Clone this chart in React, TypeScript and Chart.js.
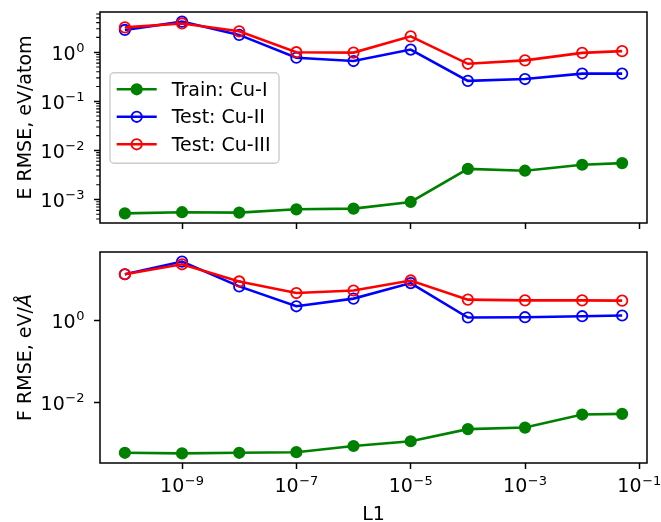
import React, { useEffect, useRef } from "react";
import { Chart, registerables } from "chart.js";

Chart.register(...registerables);

const FONT = "'DejaVu Sans', 'Liberation Sans', sans-serif";

// L1 regularisation strengths
const l1Values = [1e-10, 1e-9, 1e-8, 1e-7, 1e-6, 1e-5, 1e-4, 1e-3, 1e-2, 5e-2];

const seriesLabels = ["Train: Cu-I", "Test: Cu-II", "Test: Cu-III"];

// energy RMSE, eV/atom
const energyTrainCuI = [5.2e-4, 5.5e-4, 5.4e-4, 6.3e-4, 6.5e-4, 8.9e-4, 4.2e-3, 3.85e-3, 5.1e-3, 5.5e-3];
const energyTestCuII = [2.84, 4.2, 2.25, 0.77, 0.66, 1.13, 0.26, 0.284, 0.366, 0.366];
const energyTestCuIII = [3.2, 3.85, 2.66, 1.0, 0.98, 2.1, 0.58, 0.68, 0.97, 1.05];

// force RMSE, eV/Å
const forceTrainCuI = [5.8e-4, 5.6e-4, 5.8e-4, 6.0e-4, 8.5e-4, 1.11e-3, 2.2e-3, 2.4e-3, 5.0e-3, 5.2e-3];
const forceTestCuII = [13.5, 27.5, 6.8, 2.22, 3.42, 8.2, 1.18, 1.2, 1.27, 1.32];
const forceTestCuIII = [13.5, 23.6, 9.0, 4.68, 5.4, 9.5, 3.23, 3.1, 3.1, 3.05];

// major tick positions
const xTickValues = [1e-9, 1e-7, 1e-5, 1e-3, 1e-1];
const energyTickValues = [1e-3, 1e-2, 1e-1, 1];
const forceTickValues = [1e-2, 1];

const seriesColors = ["#008000", "#0000ff", "#ff0000"];
const seriesFilled = [true, false, false];

const LINE_W = 2.6;
const POINT_R = 5.2;
const POINT_BW = 1.8;

// 5% margin in log space on both ends
function logLimits(values: number[]): [number, number] {
  const lo = Math.log10(Math.min(...values));
  const hi = Math.log10(Math.max(...values));
  const m = (hi - lo) * 0.05;
  return [Math.pow(10, lo - m), Math.pow(10, hi + m)];
}

function drawPow10(ctx: CanvasRenderingContext2D, value: number, x: number, baseline: number, align: "right" | "center") {
  const exp = Math.round(Math.log10(value));
  const sup = (exp < 0 ? "\u2212" : "") + Math.abs(exp);
  ctx.font = `19px ${FONT}`;
  const wb = ctx.measureText("10").width;
  ctx.font = `13px ${FONT}`;
  const ws = ctx.measureText(sup).width;
  const gap = 0.6;
  const total = wb + gap + ws;
  const x0 = align === "right" ? x - total : x - total / 2;
  ctx.textAlign = "left";
  ctx.textBaseline = "alphabetic";
  ctx.fillStyle = "#000";
  ctx.font = `19px ${FONT}`;
  ctx.fillText("10", x0, baseline);
  ctx.font = `13px ${FONT}`;
  ctx.fillText(sup, x0 + wb + gap, baseline - 7.5);
}

type PanelOpts = {
  yTitle: string;
  yTitleTail?: string;
  yTickValues: number[];
  minorY: boolean;
  showXLabels: boolean;
  showLegend: boolean;
};

function panelPlugin(opts: PanelOpts) {
  return {
    id: "panelDecor",
    afterDraw(chart: any) {
      const ctx: CanvasRenderingContext2D = chart.ctx;
      const area = chart.chartArea;
      const xs = chart.scales.x;
      const ys = chart.scales.y;
      ctx.save();

      // axes frame
      ctx.strokeStyle = "#000";
      ctx.lineWidth = 1.5;
      ctx.strokeRect(area.left, area.top, area.right - area.left, area.bottom - area.top);

      // minor y ticks
      if (opts.minorY) {
        const lo = Math.floor(Math.log10(ys.min));
        const hi = Math.ceil(Math.log10(ys.max));
        ctx.lineWidth = 1.1;
        ctx.beginPath();
        for (let d = lo; d <= hi; d++) {
          for (let k = 2; k <= 9; k++) {
            const v = k * Math.pow(10, d);
            if (v < ys.min || v > ys.max) continue;
            const py = ys.getPixelForValue(v);
            ctx.moveTo(area.left - 3.8, py);
            ctx.lineTo(area.left, py);
          }
        }
        ctx.stroke();
      }

      // y tick labels
      for (const v of opts.yTickValues) {
        const py = ys.getPixelForValue(v);
        drawPow10(ctx, v, 84.5, py + 7.5, "right");
      }

      // y title
      ctx.save();
      ctx.translate(30.5, (area.top + area.bottom) / 2);
      ctx.rotate(-Math.PI / 2);
      ctx.fillStyle = "#000";
      ctx.textBaseline = "alphabetic";
      ctx.textAlign = "left";
      ctx.font = `19px ${FONT}`;
      const w1 = ctx.measureText(opts.yTitle).width;
      let w2 = 0;
      if (opts.yTitleTail) {
        ctx.font = `italic 19px ${FONT}`;
        w2 = ctx.measureText(opts.yTitleTail).width;
      }
      const start = -(w1 + w2) / 2;
      ctx.font = `19px ${FONT}`;
      ctx.fillText(opts.yTitle, start, 0);
      if (opts.yTitleTail) {
        ctx.font = `italic 19px ${FONT}`;
        ctx.fillText(opts.yTitleTail, start + w1, 0);
      }
      ctx.restore();

      // x tick labels and title
      if (opts.showXLabels) {
        for (const v of xTickValues) {
          const px = xs.getPixelForValue(v);
          drawPow10(ctx, v, px, area.bottom + 29.4, "center");
        }
        ctx.fillStyle = "#000";
        ctx.font = `19px ${FONT}`;
        ctx.textAlign = "center";
        ctx.textBaseline = "alphabetic";
        ctx.fillText("L1", (area.left + area.right) / 2, area.bottom + 56.7);
      }

      // legend
      if (opts.showLegend) {
        const bx = 110, by = 72.7, bw = 169, bh = 90.6, r = 4;
        ctx.beginPath();
        ctx.moveTo(bx + r, by);
        ctx.arcTo(bx + bw, by, bx + bw, by + bh, r);
        ctx.arcTo(bx + bw, by + bh, bx, by + bh, r);
        ctx.arcTo(bx, by + bh, bx, by, r);
        ctx.arcTo(bx, by, bx + bw, by, r);
        ctx.closePath();
        ctx.fillStyle = "rgba(255,255,255,0.8)";
        ctx.fill();
        ctx.strokeStyle = "#cccccc";
        ctx.lineWidth = 1.4;
        ctx.stroke();

        chart.data.datasets.forEach((ds: any, i: number) => {
          const ry = 89.3 + i * 27.5;
          ctx.strokeStyle = ds.borderColor;
          ctx.lineWidth = ds.borderWidth;
          ctx.beginPath();
          ctx.moveTo(116.7, ry);
          ctx.lineTo(156.7, ry);
          ctx.stroke();
          ctx.beginPath();
          ctx.arc(136.7, ry, ds.pointRadius, 0, Math.PI * 2);
          ctx.fillStyle = ds.pointBackgroundColor;
          ctx.fill();
          ctx.lineWidth = ds.pointBorderWidth;
          ctx.strokeStyle = ds.pointBorderColor;
          ctx.stroke();
          ctx.fillStyle = "#000";
          ctx.font = `19px ${FONT}`;
          ctx.textAlign = "left";
          ctx.textBaseline = "alphabetic";
          ctx.fillText(ds.label, 171.7, ry + 6.5);
        });
      }

      ctx.restore();
    },
  };
}

function buildConfig(series: number[][], xScaleHeight: number, opts: PanelOpts): any {
  const [xMin, xMax] = logLimits(l1Values);
  const [yMin, yMax] = logLimits(series.flat());
  const tickGrid = {
    display: true,
    drawOnChartArea: false,
    drawTicks: true,
    tickLength: 6,
    tickWidth: 1.5,
    tickColor: "#000",
  };
  return {
    type: "line",
    data: {
      datasets: series.map((vals, i) => ({
        label: seriesLabels[i],
        data: l1Values.map((x, j) => ({ x, y: vals[j] })),
        borderColor: seriesColors[i],
        backgroundColor: seriesColors[i],
        pointBackgroundColor: seriesFilled[i] ? seriesColors[i] : "rgba(0,0,0,0)",
        pointBorderColor: seriesColors[i],
        borderWidth: LINE_W,
        pointRadius: POINT_R,
        pointHoverRadius: POINT_R,
        pointBorderWidth: POINT_BW,
        tension: 0,
        fill: false,
        order: series.length - i,
      })),
    },
    options: {
      responsive: false,
      animation: false,
      devicePixelRatio: 1,
      events: [],
      layout: { padding: { left: 0, right: 14, top: 12, bottom: 0 } },
      plugins: { legend: { display: false }, tooltip: { enabled: false } },
      scales: {
        x: {
          type: "logarithmic",
          position: "bottom",
          min: xMin,
          max: xMax,
          bounds: "data",
          afterBuildTicks: (s: any) => {
            s.ticks = xTickValues.map((v) => ({ value: v }));
          },
          afterFit: (s: any) => {
            s.height = xScaleHeight;
          },
          ticks: { display: false },
          grid: tickGrid,
          border: { display: false },
        },
        y: {
          type: "logarithmic",
          position: "left",
          min: yMin,
          max: yMax,
          bounds: "data",
          afterBuildTicks: (s: any) => {
            s.ticks = opts.yTickValues.map((v) => ({ value: v }));
          },
          afterFit: (s: any) => {
            s.width = 100;
          },
          ticks: { display: false },
          grid: tickGrid,
          border: { display: false },
        },
      },
    },
    plugins: [panelPlugin(opts)],
  };
}

function Panel(props: { top: number; height: number; series: number[][]; xScaleHeight: number; opts: PanelOpts }) {
  const ref = useRef<HTMLCanvasElement>(null);
  useEffect(() => {
    const canvas = ref.current;
    if (!canvas) return;
    const chart = new Chart(canvas, buildConfig(props.series, props.xScaleHeight, props.opts));
    return () => chart.destroy();
  }, []);
  return (
    <canvas
      ref={ref}
      width={661}
      height={props.height}
      style={{ position: "absolute", left: 0, top: props.top, width: 661, height: props.height, display: "block" }}
    />
  );
}

export default function App() {
  return (
    <div style={{ position: "fixed", left: 0, top: 0, width: 661, height: 522, background: "#fff", overflow: "hidden" }}>
      <Panel
        top={0}
        height={240}
        xScaleHeight={17}
        series={[energyTrainCuI, energyTestCuII, energyTestCuIII]}
        opts={{
          yTitle: "E RMSE, eV/atom",
          yTickValues: energyTickValues,
          minorY: true,
          showXLabels: false,
          showLegend: true,
        }}
      />
      <Panel
        top={240}
        height={282}
        xScaleHeight={59}
        series={[forceTrainCuI, forceTestCuII, forceTestCuIII]}
        opts={{
          yTitle: "F RMSE, eV/",
          yTitleTail: "Å",
          yTickValues: forceTickValues,
          minorY: false,
          showXLabels: true,
          showLegend: false,
        }}
      />
    </div>
  );
}
